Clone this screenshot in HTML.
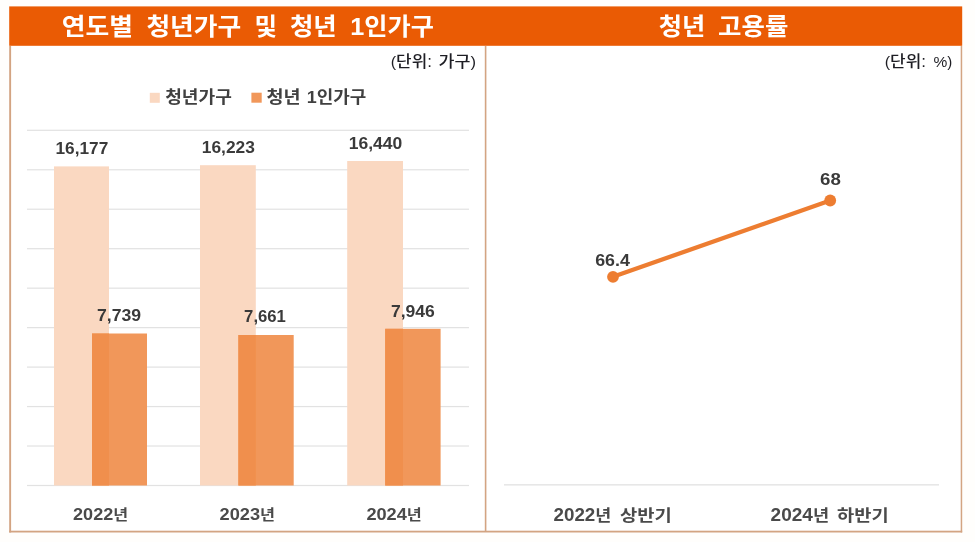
<!DOCTYPE html>
<html lang="ko"><head><meta charset="utf-8"><title>청년가구 및 청년 고용률</title>
<style>html,body{margin:0;padding:0;background:#fff}svg{display:block}text{font-family:"Liberation Sans","Noto Sans CJK KR",sans-serif;font-weight:700}.t{fill:#fff;font-size:24px}.u{fill:#1e1e24;font-size:15.7px;font-weight:500}.p{font-size:15px}.pc{font-size:15.5px}.v{fill:#3a3a3a;font-size:16.5px}.x{fill:#4a4a4a;font-size:16.5px}.k1{font-size:14.8px}.x2{fill:#4a4a4a;font-size:17.5px}.k2{font-size:16.2px}.l{fill:#404040;font-size:16.5px}</style></head><body>
<svg width="975" height="542" viewBox="0 0 975 542">
<rect width="975" height="542" fill="#fffefc"/>
<rect x="9.2" y="46" width="953" height="486.5" fill="#fff"/>
<rect x="9.2" y="46" width="1.9" height="486.5" fill="#d3a482"/>
<rect x="960.7" y="46" width="1.5" height="486.5" fill="#d3a482"/>
<rect x="9.2" y="530.7" width="953" height="1.8" fill="#d3a482"/>
<rect x="484.8" y="46" width="1.6" height="486" fill="#d3a482"/>
<rect x="9.2" y="6.4" width="953" height="39.4" fill="#ea5b04"/>
<rect x="27" y="129.70" width="442" height="1.2" fill="#e2e2e2"/>
<rect x="27" y="169.17" width="442" height="1.2" fill="#e2e2e2"/>
<rect x="27" y="208.63" width="442" height="1.2" fill="#e2e2e2"/>
<rect x="27" y="248.10" width="442" height="1.2" fill="#e2e2e2"/>
<rect x="27" y="287.57" width="442" height="1.2" fill="#e2e2e2"/>
<rect x="27" y="327.03" width="442" height="1.2" fill="#e2e2e2"/>
<rect x="27" y="366.50" width="442" height="1.2" fill="#e2e2e2"/>
<rect x="27" y="405.97" width="442" height="1.2" fill="#e2e2e2"/>
<rect x="27" y="445.43" width="442" height="1.2" fill="#e2e2e2"/>
<rect x="27" y="484.90" width="442" height="1.2" fill="#e2e2e2"/>
<rect x="54.0" y="166.4" width="55.0" height="319.1" fill="#fad8c1"/>
<rect x="200.0" y="165.2" width="55.8" height="320.3" fill="#fad8c1"/>
<rect x="347.2" y="161.0" width="55.8" height="324.5" fill="#fad8c1"/>
<rect x="92.0" y="333.5" width="55.0" height="152.0" fill="#f1975a"/>
<rect x="92.0" y="333.5" width="17.0" height="152.0" fill="#f08f4d"/>
<rect x="238.4" y="335.0" width="55.3" height="150.5" fill="#f1975a"/>
<rect x="238.4" y="335.0" width="17.4" height="150.5" fill="#f08f4d"/>
<rect x="385.2" y="328.8" width="55.4" height="156.7" fill="#f1975a"/>
<rect x="385.2" y="328.8" width="17.8" height="156.7" fill="#f08f4d"/>
<rect x="504" y="484.2" width="435" height="1.3" fill="#e2e2e2"/>
<line x1="613" y1="276.8" x2="830.2" y2="200.5" stroke="#ed7d31" stroke-width="4.3" stroke-linecap="round"/>
<circle cx="613" cy="276.8" r="5.9" fill="#ed7d31"/><circle cx="830.2" cy="200.5" r="5.9" fill="#ed7d31"/>
<rect x="149.8" y="92.8" width="10" height="10" fill="#fad8c1"/>
<rect x="251.4" y="92.7" width="10.3" height="10" fill="#f1975a"/>
<text class="t"><tspan x="61.8" y="34.9" textLength="71.2" lengthAdjust="spacingAndGlyphs">연도별</tspan> <tspan x="146.4" y="34.9" textLength="94.8" lengthAdjust="spacingAndGlyphs">청년가구</tspan> <tspan x="254.6" y="34.9" textLength="22.5" lengthAdjust="spacingAndGlyphs">및</tspan> <tspan x="289.9" y="34.9" textLength="46.9" lengthAdjust="spacingAndGlyphs">청년</tspan> <tspan x="350.3" y="34.9" textLength="83.6" lengthAdjust="spacingAndGlyphs">1인가구</tspan></text>
<text class="t"><tspan x="658.8" y="34.9" textLength="46.6" lengthAdjust="spacingAndGlyphs">청년</tspan> <tspan x="718.1" y="34.9" textLength="70.2" lengthAdjust="spacingAndGlyphs">고용률</tspan></text>
<text class="u"><tspan x="390.7" y="67.0" textLength="41.2" lengthAdjust="spacingAndGlyphs"><tspan class="p">(</tspan>단위:</tspan> <tspan x="438.6" y="67.0" textLength="37.5" lengthAdjust="spacingAndGlyphs">가구<tspan class="p">)</tspan></tspan></text>
<text class="u"><tspan x="884.7" y="67.0" textLength="41.3" lengthAdjust="spacingAndGlyphs"><tspan class="p">(</tspan>단위:</tspan> <tspan x="933.5" y="67.0" textLength="18.8" lengthAdjust="spacing"><tspan class="pc">%</tspan><tspan class="p">)</tspan></tspan></text>
<text class="l"><tspan x="165.2" y="102.5" textLength="66.7" lengthAdjust="spacingAndGlyphs">청년가구</tspan></text>
<text class="l"><tspan x="266.5" y="102.8" textLength="34.1" lengthAdjust="spacingAndGlyphs">청년</tspan> <tspan x="306.8" y="102.8" textLength="59.6" lengthAdjust="spacingAndGlyphs">1인가구</tspan></text>
<text class="v"><tspan x="55.5" y="153.7" textLength="52.8" lengthAdjust="spacingAndGlyphs">16,177</tspan></text>
<text class="v"><tspan x="201.8" y="152.9" textLength="53.1" lengthAdjust="spacingAndGlyphs">16,223</tspan></text>
<text class="v"><tspan x="348.8" y="148.5" textLength="53.5" lengthAdjust="spacingAndGlyphs">16,440</tspan></text>
<text class="v"><tspan x="97.0" y="320.6" textLength="44.1" lengthAdjust="spacingAndGlyphs">7,739</tspan></text>
<text class="v"><tspan x="244.1" y="322.2" textLength="41.8" lengthAdjust="spacingAndGlyphs">7,661</tspan></text>
<text class="v"><tspan x="390.9" y="316.7" textLength="43.9" lengthAdjust="spacingAndGlyphs">7,946</tspan></text>
<text class="v"><tspan x="595.2" y="265.7" textLength="34.7" lengthAdjust="spacingAndGlyphs">66.4</tspan></text>
<text class="v"><tspan x="820.1" y="184.9" textLength="20.8" lengthAdjust="spacingAndGlyphs">68</tspan></text>
<text class="x"><tspan x="73.1" y="520.2" textLength="55.0" lengthAdjust="spacingAndGlyphs">2022<tspan class="k1" dy="-0.6">년</tspan></tspan></text>
<text class="x"><tspan x="219.6" y="520.2" textLength="55.5" lengthAdjust="spacingAndGlyphs">2023<tspan class="k1" dy="-0.6">년</tspan></tspan></text>
<text class="x"><tspan x="366.4" y="520.2" textLength="55.5" lengthAdjust="spacingAndGlyphs">2024<tspan class="k1" dy="-0.6">년</tspan></tspan></text>
<text class="x2"><tspan x="553.5" y="520.9" textLength="57.8" lengthAdjust="spacingAndGlyphs">2022<tspan class="k2" dy="-0.3">년</tspan></tspan> <tspan x="620.0" y="521.2" textLength="51.8" lengthAdjust="spacingAndGlyphs"><tspan class="k2" dy="-0.3">상반기</tspan></tspan></text>
<text class="x2"><tspan x="770.6" y="520.9" textLength="58.5" lengthAdjust="spacingAndGlyphs">2024<tspan class="k2" dy="-0.3">년</tspan></tspan> <tspan x="837.0" y="521.2" textLength="51.6" lengthAdjust="spacingAndGlyphs"><tspan class="k2" dy="-0.3">하반기</tspan></tspan></text>
</svg></body></html>
